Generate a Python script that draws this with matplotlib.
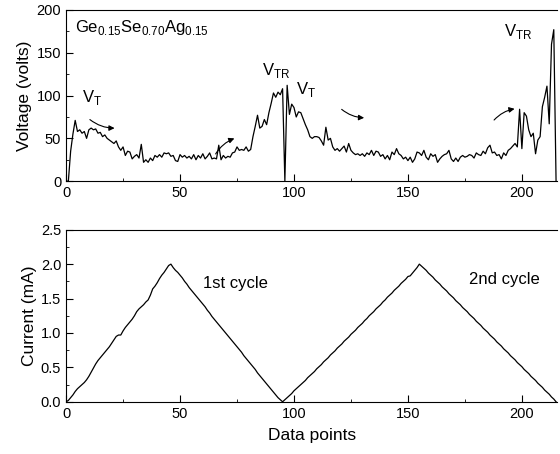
import matplotlib
matplotlib.use("Agg")
import matplotlib.pyplot as plt
from matplotlib.ticker import MultipleLocator

plt.rcParams['font.family'] = ['Liberation Sans', 'DejaVu Sans']
plt.rcParams['mathtext.fontset'] = 'custom'
plt.rcParams['mathtext.rm'] = 'Liberation Sans'
plt.rcParams['font.size'] = 10

# voltage per data point (volts)
voltage = [
    0, 0, 35, 55, 71, 58, 60, 56, 58, 50,
    60, 62, 60, 61, 56, 57, 52, 54, 50, 48,
    46, 44, 47, 40, 36, 40, 30, 35, 34, 26,
    29, 31, 27, 43, 22, 25, 22, 27, 24, 30,
    28, 31, 28, 33, 32, 33, 29, 30, 24, 23,
    31, 28, 30, 27, 29, 26, 31, 25, 30, 27,
    32, 26, 29, 33, 26, 27, 26, 42, 25, 30,
    27, 29, 28, 33, 34, 40, 36, 37, 36, 40,
    35, 37, 52, 64, 77, 62, 64, 72, 66, 80,
    91, 103, 98, 104, 101, 108, 0, 112, 78, 90,
    86, 75, 81, 80, 73, 66, 60, 52, 50, 52,
    52, 51, 47, 42, 63, 48, 50, 40, 36, 38,
    35, 38, 41, 34, 44, 36, 33, 31, 32, 30,
    32, 29, 33, 31, 36, 30, 35, 34, 29, 31,
    26, 30, 25, 34, 31, 38, 32, 30, 26, 28,
    24, 28, 22, 26, 34, 33, 30, 36, 28, 25,
    32, 29, 31, 22, 26, 29, 31, 32, 36, 26,
    23, 27, 23, 28, 30, 28, 29, 31, 30, 27,
    33, 31, 30, 35, 32, 39, 42, 33, 34, 30,
    31, 26, 33, 30, 36, 38, 41, 44, 40, 84,
    38, 80, 76, 60, 52, 56, 32, 48, 52, 87,
    98, 111, 67, 160, 177, 0,
]

# current per data point (mA)
current = [
    0.00, 0.02, 0.06, 0.10, 0.15, 0.19, 0.22, 0.25, 0.28, 0.32,
    0.37, 0.43, 0.49, 0.55, 0.60, 0.64, 0.68, 0.72, 0.76, 0.80,
    0.85, 0.90, 0.95, 0.97, 0.97, 1.03, 1.08, 1.12, 1.16, 1.20,
    1.25, 1.31, 1.35, 1.38, 1.41, 1.45, 1.48, 1.55, 1.64, 1.68,
    1.73, 1.79, 1.84, 1.88, 1.93, 1.98, 2.00, 1.95, 1.91, 1.88,
    1.84, 1.80, 1.75, 1.71, 1.66, 1.62, 1.58, 1.54, 1.50, 1.46,
    1.42, 1.38, 1.33, 1.29, 1.24, 1.20, 1.16, 1.12, 1.08, 1.04,
    1.00, 0.96, 0.92, 0.88, 0.84, 0.80, 0.76, 0.72, 0.67, 0.63,
    0.59, 0.55, 0.51, 0.47, 0.42, 0.38, 0.34, 0.30, 0.26, 0.22,
    0.18, 0.14, 0.10, 0.06, 0.03, 0.00, 0.03, 0.06, 0.09, 0.12,
    0.16, 0.19, 0.22, 0.25, 0.28, 0.31, 0.35, 0.38, 0.41, 0.44,
    0.48, 0.51, 0.54, 0.58, 0.61, 0.64, 0.68, 0.71, 0.74, 0.78,
    0.81, 0.84, 0.88, 0.91, 0.94, 0.98, 1.01, 1.04, 1.08, 1.11,
    1.14, 1.18, 1.21, 1.25, 1.28, 1.31, 1.35, 1.38, 1.41, 1.45,
    1.48, 1.52, 1.55, 1.58, 1.62, 1.65, 1.68, 1.72, 1.75, 1.78,
    1.82, 1.83, 1.87, 1.91, 1.95, 2.00, 1.97, 1.94, 1.91, 1.87,
    1.84, 1.81, 1.77, 1.74, 1.71, 1.67, 1.64, 1.61, 1.57, 1.54,
    1.51, 1.47, 1.44, 1.41, 1.37, 1.34, 1.31, 1.27, 1.24, 1.21,
    1.17, 1.14, 1.11, 1.07, 1.04, 1.01, 0.97, 0.94, 0.91, 0.87,
    0.84, 0.81, 0.77, 0.74, 0.71, 0.67, 0.64, 0.61, 0.57, 0.54,
    0.51, 0.47, 0.44, 0.41, 0.37, 0.34, 0.31, 0.27, 0.24, 0.21,
    0.17, 0.14, 0.11, 0.07, 0.04, 0.00,
]

points = list(range(len(voltage)))

fig = plt.figure(figsize=(5.6, 4.54), dpi=100)
ax1 = fig.add_axes([0.118, 0.601, 0.877, 0.377])
ax2 = fig.add_axes([0.118, 0.115, 0.877, 0.379])

ax1.plot(points, voltage, color='black', lw=0.9)
ax2.plot(points, current, color='black', lw=0.9)

for ax in (ax1, ax2):
    ax.set_xlim(0, 215.5)
    ax.xaxis.set_major_locator(MultipleLocator(50))
    ax.xaxis.set_minor_locator(MultipleLocator(25))
    ax.spines['right'].set_visible(False)
    ax.tick_params(which='both', direction='in', top=False, right=False)
    ax.tick_params(which='major', length=5, labelsize=10.5)
    ax.tick_params(which='minor', length=2.5)

ax1.set_ylim(0, 200)
ax1.yaxis.set_major_locator(MultipleLocator(50))
ax1.yaxis.set_minor_locator(MultipleLocator(25))
ax1.set_ylabel('Voltage (volts)', fontsize=12.5, labelpad=3)

ax2.set_ylim(0, 2.5)
ax2.yaxis.set_major_locator(MultipleLocator(0.5))
ax2.yaxis.set_minor_locator(MultipleLocator(0.25))
ax2.yaxis.set_major_formatter(plt.FormatStrFormatter('%.1f'))
ax2.set_ylabel('Current (mA)', fontsize=12.5, labelpad=3)
ax2.set_xlabel('Data points', fontsize=12.5, labelpad=5)

# labels in the voltage panel
ax1.text(4, 180, r'Ge$_\mathregular{0.15}$Se$_\mathregular{0.70}$Ag$_\mathregular{0.15}$',
         fontsize=12, va='center')
ax1.text(7, 92, r'V$_\mathregular{T}$', fontsize=12)
ax1.text(86, 124, r'V$_\mathregular{TR}$', fontsize=12)
ax1.text(101, 102, r'V$_\mathregular{T}$', fontsize=12)
ax1.text(192, 170, r'V$_\mathregular{TR}$', fontsize=12)

arrow = dict(arrowstyle='-|>', color='black', lw=0.8, mutation_scale=8)
ax1.annotate('', xy=(22.5, 62), xytext=(9.5, 74),
             arrowprops=dict(arrow, connectionstyle='arc3,rad=0.2'))
ax1.annotate('', xy=(75, 51), xytext=(65, 29),
             arrowprops=dict(arrow, connectionstyle='arc3,rad=-0.2'))
ax1.annotate('', xy=(132, 74), xytext=(120, 86),
             arrowprops=dict(arrow, connectionstyle='arc3,rad=0.2'))
ax1.annotate('', xy=(198, 85), xytext=(187, 69),
             arrowprops=dict(arrow, connectionstyle='arc3,rad=-0.2'))

ax2.text(60, 1.72, '1st cycle', fontsize=12, va='center')
ax2.text(177, 1.78, '2nd cycle', fontsize=12, va='center')

fig.savefig('out.png', dpi=100)
